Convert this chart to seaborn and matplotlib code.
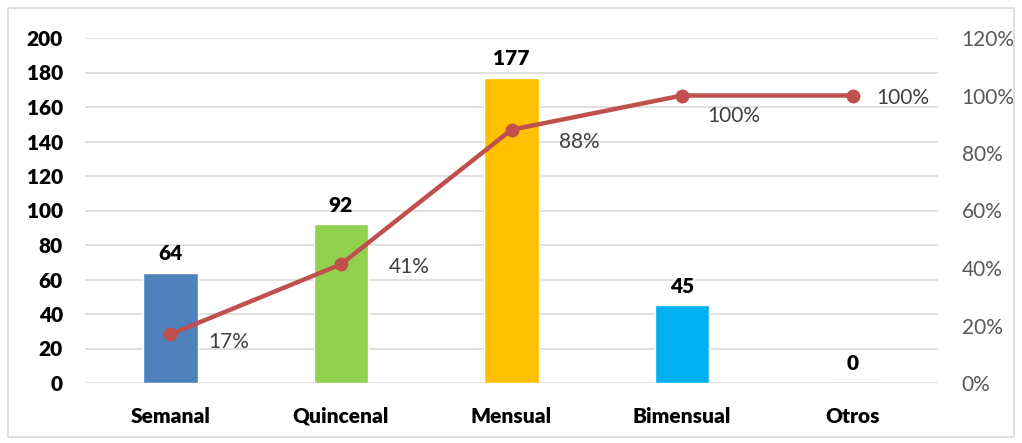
import numpy as np
import pandas as pd
import matplotlib
matplotlib.use("Agg")
import matplotlib.pyplot as plt
from matplotlib.patches import Rectangle
from matplotlib.ticker import FuncFormatter, MultipleLocator
import seaborn as sns

# Frecuencia de pago
categorias = ["Semanal", "Quincenal", "Mensual", "Bimensual", "Otros"]
frecuencias = [64, 92, 177, 45, 0]

colores_barras = ["#4F81BD", "#92D050", "#FFC000", "#00B0F0", "#A5A5A5"]
color_linea = "#C0504D"

total = sum(frecuencias)
acumulado = np.cumsum(frecuencias) / total * 100

df = pd.DataFrame({
    "categoria": categorias,
    "frecuencia": frecuencias,
    "acumulado": acumulado,
})

sns.set_theme(style="white")
plt.rcParams["font.family"] = ["Lato", "DejaVu Sans"]

FS = 15
PESO = "heavy"

DPI = 100
fig = plt.figure(figsize=(10.22, 4.43), dpi=DPI)
ax = fig.add_axes([85 / 1022, 1 - 383 / 443, (938 - 85) / 1022, (383 - 38) / 443])

sns.barplot(data=df, x="categoria", y="frecuencia", hue="categoria",
            palette=colores_barras, legend=False, width=0.32,
            saturation=1, ax=ax)

ax.set_ylim(0, 200)
ax.set_xlim(-0.5, len(categorias) - 0.5)
ax.yaxis.set_major_locator(MultipleLocator(20))
ax.grid(axis="y", color="#D9D9D9", linewidth=1.1)
ax.set_axisbelow(True)
for s in ax.spines.values():
    s.set_visible(False)
ax.set_xlabel("")
ax.set_ylabel("")
ax.tick_params(axis="both", length=0)
ax.tick_params(axis="y", pad=16)
ax.tick_params(axis="x", pad=17)
for lab in ax.get_yticklabels() + ax.get_xticklabels():
    lab.set_fontsize(FS)
    lab.set_fontweight(PESO)
    lab.set_color("black")

# Etiquetas de valor sobre las barras
px = 72 / DPI
for i, v in enumerate(frecuencias):
    ax.annotate(f"{v}", xy=(i, v), xytext=(0, 19 * px), textcoords="offset points",
                ha="center", va="center", fontsize=FS, fontweight=PESO,
                color="black")

# Curva de porcentaje acumulado
ax2 = ax.twinx()
sns.lineplot(data=df, x="categoria", y="acumulado", color=color_linea,
             linewidth=3.2, marker="o", markersize=10, markeredgewidth=0,
             sort=False, ax=ax2)
ax2.set_ylim(0, 120)
ax2.yaxis.set_major_locator(MultipleLocator(20))
ax2.yaxis.set_major_formatter(FuncFormatter(lambda v, _: f"{v:.0f}%"))
ax2.grid(False)
for s in ax2.spines.values():
    s.set_visible(False)
ax2.set_ylabel("")
ax2.set_xlabel("")
ax2.tick_params(axis="y", length=0, pad=17, labelsize=FS, labelcolor="#595959")

# Desplazamiento (px) del borde izquierdo y centro de cada etiqueta
desplazamientos = [(38, -8), (48, -2.5), (47, -12.5), (25, -20.5), (24, -2)]
for i, (p, (dx, dy)) in enumerate(zip(acumulado, desplazamientos)):
    ax2.annotate(f"{p:.0f}%", xy=(i, p), xytext=(dx * px, dy * px),
                 textcoords="offset points", ha="left", va="center",
                 fontsize=FS, color="#404040")

# Marco del gráfico
fig.patches.append(Rectangle((8 / 1022, 6 / 443), 1006 / 1022, 429 / 443,
                             transform=fig.transFigure, fill=False,
                             edgecolor="#D9D9D9", linewidth=1.2))

fig.savefig("out.png", dpi=DPI)
